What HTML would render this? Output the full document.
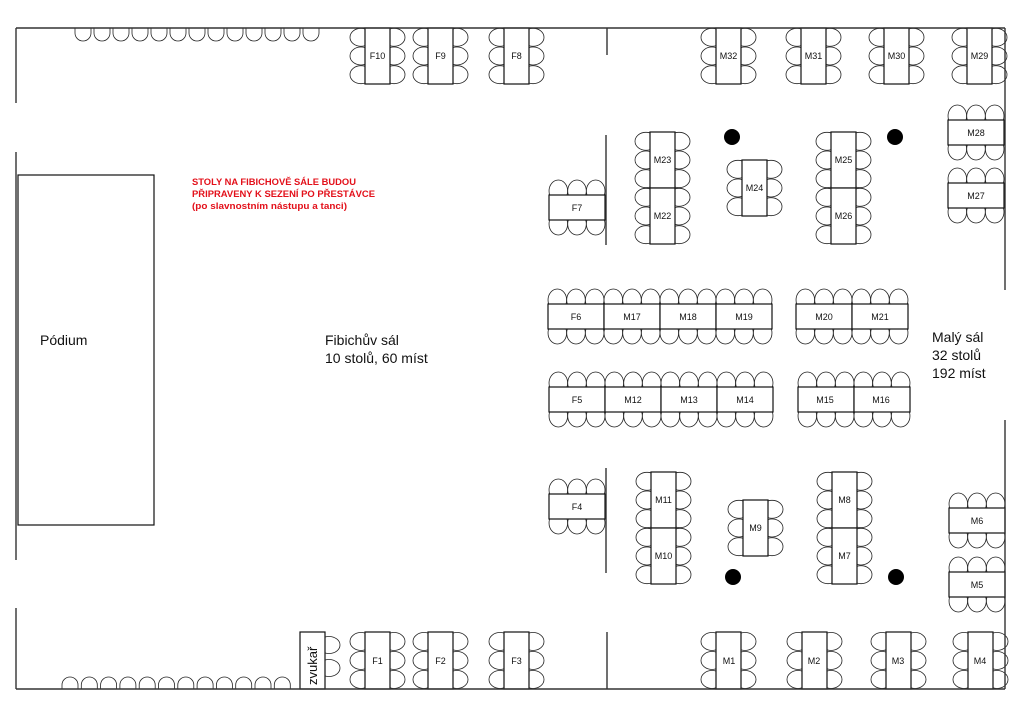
<!DOCTYPE html>
<html><head><meta charset="utf-8"><style>
html,body{margin:0;padding:0;background:#fff}
svg{display:block}
.t{font-family:"Liberation Sans",sans-serif;font-size:9px;text-anchor:middle;fill:#111}
.b{font-family:"Liberation Sans",sans-serif;font-size:14px;fill:#111}
.r{font-family:"Liberation Sans",sans-serif;font-size:9px;font-weight:bold;fill:#e3101a}
</style></head><body>
<svg id="s" width="1024" height="724" viewBox="0 0 1024 724" xmlns="http://www.w3.org/2000/svg">
<g id="chairs" fill="#fff" stroke="#222" stroke-width="0.8"></g>
<g id="tables" fill="#fff" stroke="#111" stroke-width="1.2"></g>
<g stroke="#333" stroke-width="1.4" fill="none">
<line x1="16" y1="28" x2="1005" y2="28"/>
<line x1="16" y1="689" x2="1005" y2="689"/>
<line x1="16" y1="28" x2="16" y2="103"/>
<line x1="16" y1="152" x2="16" y2="560"/>
<line x1="16" y1="608" x2="16" y2="689"/>
<line x1="1005" y1="28" x2="1005" y2="290"/>
<line x1="1005" y1="420" x2="1005" y2="689"/>
<line x1="607" y1="28" x2="607" y2="55"/>
<line x1="606" y1="135" x2="606" y2="245"/>
<line x1="606" y1="468" x2="606" y2="573"/>
<line x1="607" y1="632" x2="607" y2="689"/>
</g>
<rect x="18" y="175" width="136" height="350" fill="none" stroke="#111" stroke-width="1.2"/>
<g fill="#000"><circle cx="732" cy="137" r="8"/><circle cx="895" cy="137" r="8"/><circle cx="733" cy="577" r="8"/><circle cx="896" cy="577" r="8"/></g>
<g id="labels">
<text class="t" x="377.5" y="59">F10</text><text class="t" x="440.5" y="59">F9</text><text class="t" x="516.5" y="59">F8</text>
<text class="t" x="728.5" y="59">M32</text><text class="t" x="813.5" y="59">M31</text><text class="t" x="896.5" y="59">M30</text><text class="t" x="979.5" y="59">M29</text>
<text class="t" x="662.5" y="163">M23</text><text class="t" x="662.5" y="219">M22</text><text class="t" x="754.5" y="191">M24</text>
<text class="t" x="843.5" y="163">M25</text><text class="t" x="843.5" y="219">M26</text>
<text class="t" x="976" y="136">M28</text><text class="t" x="976" y="199">M27</text>
<text class="t" x="577" y="211">F7</text>
<text class="t" x="576" y="320">F6</text><text class="t" x="632" y="320">M17</text><text class="t" x="688" y="320">M18</text><text class="t" x="744" y="320">M19</text><text class="t" x="824" y="320">M20</text><text class="t" x="880" y="320">M21</text>
<text class="t" x="577" y="403">F5</text><text class="t" x="633" y="403">M12</text><text class="t" x="689" y="403">M13</text><text class="t" x="745" y="403">M14</text><text class="t" x="825" y="403">M15</text><text class="t" x="881" y="403">M16</text>
<text class="t" x="577" y="510">F4</text>
<text class="t" x="663.5" y="503">M11</text><text class="t" x="663.5" y="559">M10</text><text class="t" x="755.5" y="531">M9</text>
<text class="t" x="844.5" y="503">M8</text><text class="t" x="844.5" y="559">M7</text>
<text class="t" x="977" y="524">M6</text><text class="t" x="977" y="588">M5</text>
<text class="t" x="729" y="664">M1</text><text class="t" x="814" y="664">M2</text><text class="t" x="898" y="664">M3</text><text class="t" x="980" y="664">M4</text>
<text class="t" x="377.5" y="664">F1</text><text class="t" x="440.5" y="664">F2</text><text class="t" x="516.5" y="664">F3</text>
<text class="b" x="0" y="0" transform="translate(317,685) rotate(-90)" style="font-size:13px">zvukař</text>
<text class="b" x="40" y="345">Pódium</text>
<text class="b" x="325" y="345">Fibichův sál</text>
<text class="b" x="325" y="363">10 stolů, 60 míst</text>
<text class="b" x="932" y="342">Malý sál</text>
<text class="b" x="932" y="360">32 stolů</text>
<text class="b" x="932" y="378">192 míst</text>
<text class="r" x="192" y="185" textLength="164" lengthAdjust="spacingAndGlyphs">STOLY NA FIBICHOVĚ SÁLE BUDOU</text>
<text class="r" x="192" y="197" textLength="183" lengthAdjust="spacingAndGlyphs">PŘIPRAVENY K SEZENÍ PO PŘESTÁVCE</text>
<text class="r" x="192" y="209" textLength="155" lengthAdjust="spacingAndGlyphs">(po slavnostním nástupu a tanci)</text>
</g>
</svg>
<script>
var NS="http://www.w3.org/2000/svg",C=document.getElementById("chairs"),T=document.getElementById("tables");
function el(p,n,a){var e=document.createElementNS(NS,n);for(var k in a)e.setAttribute(k,a[k]);p.appendChild(e);}
function V(x,y,h,left,right){h=h||56;el(T,"rect",{x:x,y:y,width:25,height:h});
 var n=Math.round(h/19);for(var i=0;i<n;i++){var cy=y+h*(i+0.5)/n;
 if(left!==false)el(C,"ellipse",{cx:x-4,cy:cy,rx:11,ry:9});
 if(right!==false)el(C,"ellipse",{cx:x+29,cy:cy,rx:11,ry:9});}}
function H(x,y,w,top,bot){w=w||56;el(T,"rect",{x:x,y:y,width:w,height:25});
 var n=Math.round(w/19);for(var i=0;i<n;i++){var cx=x+w*(i+0.5)/n;
 if(top!==false)el(C,"ellipse",{cx:cx,cy:y-4,rx:9.3,ry:11});
 if(bot!==false)el(C,"ellipse",{cx:cx,cy:y+29,rx:9.3,ry:11});}}
[365,428,504,716,801,884,967].forEach(function(x){V(x,28);});
[365,428,504,716,802,886,968].forEach(function(x){V(x,632,57);});
V(650,132);V(650,188);V(742,160);V(831,132);V(831,188);
V(651,472);V(651,528);V(743,500);V(832,472);V(832,528);
H(948,120);H(948,183);H(949,508);H(949,572);H(549,195);H(549,494);
[548,604,660,716,796,852].forEach(function(x){H(x,304);});
[549,605,661,717,798,854].forEach(function(x){H(x,387);});
// zvukar
el(T,"rect",{x:300,y:632,width:25,height:57});
el(C,"ellipse",{cx:329,cy:645,rx:11,ry:8.5});el(C,"ellipse",{cx:329,cy:668,rx:11,ry:8.5});
// benches
for(var i=0;i<13;i++){var x=75+i*19;el(C,"path",{d:"M"+x+",28 v5 a8,8 0 0 0 16,0 v-5"});}
for(var i=0;i<12;i++){var x=62+i*19.3;el(C,"path",{d:"M"+x+",689 v-4 a8,8 0 0 1 16,0 v4"});}
</script>
</body></html>
